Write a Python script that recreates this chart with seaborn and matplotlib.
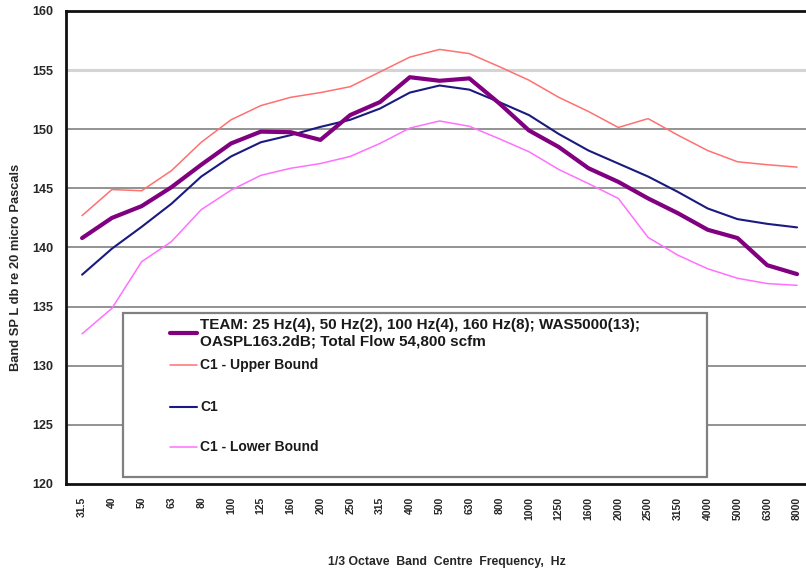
import numpy as np
import pandas as pd
import matplotlib
matplotlib.use("Agg")
import matplotlib.pyplot as plt
from matplotlib.lines import Line2D
from matplotlib.patches import Rectangle
import seaborn as sns

# 1/3 octave band centre frequencies (Hz)
freqs = ["31.5", "40", "50", "63", "80", "100", "125", "160", "200", "250",
         "315", "400", "500", "630", "800", "1000", "1250", "1600", "2000",
         "2500", "3150", "4000", "5000", "6300", "8000"]

# Band SPL, dB re 20 micro Pascals
team = [140.8, 142.5, 143.5, 145.1, 147.0, 148.8, 149.8, 149.75, 149.1, 151.2,
        152.3, 154.4, 154.1, 154.3, 152.2, 149.9, 148.5, 146.7, 145.55, 144.15,
        142.9, 141.5, 140.8, 138.5, 137.75]
c1_upper = [142.7, 144.9, 144.8, 146.5, 148.9, 150.8, 152.0, 152.7, 153.1, 153.6,
            154.85, 156.1, 156.75, 156.4, 155.3, 154.15, 152.7, 151.5, 150.15, 150.9,
            149.5, 148.2, 147.25, 147.0, 146.8]
c1 = [137.7, 139.9, 141.75, 143.7, 146.0, 147.7, 148.9, 149.5, 150.2, 150.8,
      151.75, 153.1, 153.7, 153.35, 152.3, 151.2, 149.6, 148.2, 147.1, 146.0,
      144.7, 143.3, 142.4, 142.0, 141.7]
c1_lower = [132.7, 134.85, 138.8, 140.5, 143.2, 144.85, 146.1, 146.7, 147.1, 147.7,
            148.8, 150.1, 150.7, 150.25, 149.2, 148.1, 146.6, 145.4, 144.15, 140.85,
            139.35, 138.2, 137.4, 136.95, 136.8]

team_label = ("TEAM: 25 Hz(4), 50 Hz(2), 100 Hz(4), 160 Hz(8); WAS5000(13);\n"
              "OASPL163.2dB; Total Flow 54,800 scfm")
series = [
    (team_label, team, "#800080", 3.0, 11.0),
    ("C1 - Upper Bound", c1_upper, "#FF7070", 1.1, 10.0),
    ("C1", c1, "#1A1A80", 1.5, 10.0),
    ("C1 - Lower Bound", c1_lower, "#FF70FF", 1.1, 10.0),
]

sns.set_theme(style="white")
plt.rcParams["font.family"] = ["Liberation Sans", "DejaVu Sans"]

W, H = 806, 571
fig = plt.figure(figsize=(W / 100, H / 100), dpi=100)
ax_l, ax_r, ax_t, ax_b = 66, 806, 11, 484
ax = fig.add_axes([ax_l / W, 1 - ax_b / H, (ax_r - ax_l) / W, (ax_b - ax_t) / H])

pos = np.arange(len(freqs))
df = pd.concat([pd.DataFrame({"pos": pos, "spl": vals, "series": name})
                for name, vals, *_ in series], ignore_index=True)

# Draw the bounds and C1 first so the TEAM curve sits on top
for name, vals, color, lw, _ in series[1:] + series[:1]:
    sns.lineplot(data=df[df["series"] == name], x="pos", y="spl", color=color,
                 linewidth=lw, ax=ax, legend=False,
                 zorder=3 if name == team_label else 2)

ax.set_ylim(120, 160)
ax.set_yticks(np.arange(120, 161, 5))
ax.set_xlim(-0.54, 24.3)
ax.set_xticks(pos)
ax.set_xticklabels(freqs, rotation=90, fontsize=7.5, fontweight="bold", va="top")
ax.tick_params(axis="x", length=0, pad=9)
ax.tick_params(axis="y", length=0, pad=9, labelsize=9)
for lab in ax.get_yticklabels():
    lab.set_fontweight("bold")

# Horizontal gridlines
for v in range(125, 160, 5):
    if v == 155:
        ax.axhline(v, color="#D4D4D4", linewidth=2.2, zorder=1)
    else:
        ax.axhline(v, color="#808080", linewidth=1.2, zorder=1)

for side in ["left", "bottom", "top"]:
    ax.spines[side].set_color("#111111")
    ax.spines[side].set_linewidth(2.0)
ax.spines["right"].set_visible(False)

ax.set_xlabel("")
ax.set_ylabel("")
fig.text(447 / W, 1 - 562 / H, "1/3 Octave  Band  Centre  Frequency,  Hz",
         ha="center", va="center", fontsize=8.8, fontweight="bold")
fig.text(16 / W, 1 - 267 / H, "Band SP L db re 20 micro Pascals", rotation=90,
         ha="center", va="center", fontsize=9.3, fontweight="bold")

# Legend box
box_l, box_r, box_t, box_b = 123, 707, 313, 477
fig.add_artist(Rectangle((box_l / W, 1 - box_b / H), (box_r - box_l) / W,
                         (box_b - box_t) / H, transform=fig.transFigure,
                         facecolor="white", edgecolor="#808080", linewidth=1.6,
                         zorder=5))
entry_y = [333, 365, 407, 447]
for (name, vals, color, lw, fs), yc in zip(series, entry_y):
    fig.add_artist(Line2D([170 / W, 197 / W], [1 - yc / H, 1 - yc / H],
                          transform=fig.transFigure, color=color,
                          linewidth=lw, zorder=6))
    fig.text(200 / W, 1 - yc / H, name, ha="left", va="center", fontsize=fs,
             fontweight="bold", linespacing=1.25, zorder=6, color="#1a1a1a")

fig.savefig("out.png", dpi=100)
